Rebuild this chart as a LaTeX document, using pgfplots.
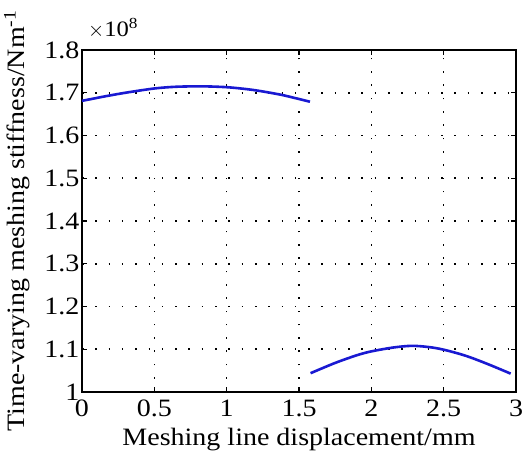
\documentclass[border=0pt]{standalone}
\usepackage{pgfplots}
\pgfplotsset{compat=1.18}
\usepackage{fontspec}
\setmainfont[FakeStretch=1.12]{Liberation Serif}
\definecolor{mblue}{RGB}{25,25,210}
\begin{document}
\begin{tikzpicture}
\begin{axis}[
  name=ax,
  scale only axis,
  width=434pt, height=342pt,
  xmin=0, xmax=3, ymin=1, ymax=1.8,
  xtick={0,0.5,1,1.5,2,2.5,3},
  ytick={1,1.1,1.2,1.3,1.4,1.5,1.6,1.7,1.8},
  /pgf/number format/assume math mode=true,
  /pgf/number format/fixed,
  tick align=inside,
  major tick length=5pt,
  tick style={black, line width=1.2pt},
  axis line style={black, line width=1.5pt},
  grid=major,
  major grid style={black, line width=1.6pt, dash pattern=on 1.6pt off 11.7pt},
  xlabel={Meshing line displacement/mm},
  ylabel={Time-varying meshing stiffness/Nm\textsuperscript{-1}},
  tick label style={font=\fontsize{25}{29}\selectfont},
  label style={font=\fontsize{25}{29}\selectfont},
  xticklabel style={yshift=-4pt},
  yticklabel style={xshift=1pt},
  xlabel style={yshift=-5pt},
  ylabel style={yshift=11pt, yshift=-1pt, inner sep=1pt},
]
\addplot[mblue, line width=2.6pt, smooth] coordinates {
(0.00,1.681) (0.15,1.691) (0.30,1.700) (0.50,1.710) (0.65,1.714) (0.83,1.715)
(1.00,1.713) (1.15,1.708) (1.25,1.703) (1.38,1.695) (1.48,1.687) (1.576,1.679)
};
\addplot[mblue, line width=2.6pt, smooth] coordinates {
(1.58,1.044) (1.75,1.068) (1.90,1.086) (2.00,1.095) (2.15,1.104) (2.28,1.108)
(2.40,1.105) (2.50,1.099) (2.65,1.085) (2.80,1.066) (2.963,1.043)
};
\end{axis}
\node[anchor=south west, inner sep=0pt, font=\fontsize{22}{26}\selectfont] at ([xshift=6pt,yshift=12pt]ax.north west) {$\times$10\textsuperscript{8}};
\pgfresetboundingbox
\path ([xshift=-82pt,yshift=-59pt]ax.south west) rectangle ([xshift=10pt,yshift=50pt]ax.north east);
\end{tikzpicture}
\end{document}
